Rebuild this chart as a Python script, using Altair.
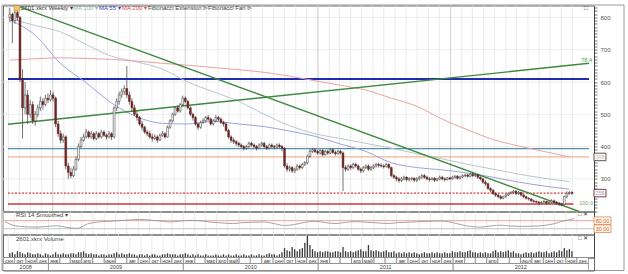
import altair as alt
import pandas as pd

FONT = "Liberation Sans"
W = 591
H_MAIN, H_RSI, H_VOL, H_AX = 206, 23, 23, 13

# ---- weekly bars, Friday closes from 2008-09-05 ----
bar_open = [800, 810, 790, 815, 800, 610, 520, 560, 500, 530,
            480, 500, 520, 540, 530, 550, 545, 560, 550, 470,
            440, 420, 430, 340, 320, 310, 330, 360, 400, 420,
            430, 445, 430, 440, 425, 440, 430, 445, 435, 430,
            440, 430, 520, 540, 560, 570, 580, 560, 540, 520,
            500, 490, 470, 460, 445, 440, 430, 425, 430, 420,
            435, 440, 430, 460, 480, 500, 520, 510, 530, 550,
            540, 520, 500, 490, 470, 460, 475, 480, 490, 485,
            470, 480, 490, 485, 475, 470, 450, 430, 420, 415,
            410, 405, 400, 395, 400, 410, 405, 400, 395, 405,
            410, 400, 395, 405, 400, 398, 405, 400, 395, 340,
            330, 335, 325, 330, 340, 335, 345, 350, 370, 385,
            390, 385, 380, 388, 375, 385, 380, 390, 382, 378,
            385, 380, 335, 330, 340, 335, 345, 340, 330, 325,
            335, 340, 330, 335, 340, 345, 342, 340, 338, 345,
            335, 310, 305, 300, 295, 300, 305, 298, 300, 302,
            296, 300, 305, 310, 305, 300, 298, 302, 296, 300,
            305, 300, 298, 303, 300, 305, 308, 302, 306, 310,
            312, 308, 315, 310, 312, 305, 300, 290, 285, 270,
            265, 255, 250, 245, 240, 245, 250, 255, 258, 262,
            255, 258, 250, 245, 240, 238, 232, 230, 228, 225,
            228, 230, 225, 228, 232, 228, 225, 222, 220, 245,
            255, 258]
bar_high = [830, 815, 835, 830, 805, 640, 600, 575, 545, 540,
            510, 530, 555, 550, 560, 565, 575, 570, 555, 480,
            450, 440, 435, 350, 335, 340, 370, 410, 430, 440,
            455, 450, 448, 445, 448, 445, 452, 450, 440, 448,
            445, 525, 550, 570, 580, 590, 650, 570, 550, 530,
            510, 495, 480, 465, 452, 448, 440, 438, 435, 440,
            448, 445, 465, 485, 505, 525, 528, 535, 558, 555,
            545, 525, 505, 495, 475, 480, 488, 495, 498, 490,
            485, 498, 495, 490, 480, 475, 455, 435, 428, 420,
            415, 410, 405, 405, 415, 415, 410, 405, 410, 415,
            415, 405, 410, 410, 405, 410, 410, 405, 398, 348,
            342, 340, 335, 345, 345, 350, 355, 375, 392, 395,
            395, 390, 392, 392, 390, 390, 395, 395, 388, 390,
            390, 385, 342, 345, 345, 350, 350, 345, 335, 340,
            345, 345, 340, 345, 350, 350, 348, 345, 350, 348,
            338, 315, 310, 305, 305, 310, 308, 305, 306, 305,
            305, 310, 315, 315, 310, 305, 305, 305, 303, 310,
            310, 305, 306, 306, 310, 312, 312, 310, 314, 316,
            316, 318, 320, 315, 316, 308, 303, 295, 288, 274,
            268, 258, 254, 250, 248, 253, 258, 262, 266, 265,
            262, 260, 253, 248, 243, 240, 236, 233, 231, 232,
            234, 232, 231, 237, 236, 231, 228, 226, 248, 262,
            262, 262]
bar_low = [785, 720, 780, 790, 600, 425, 500, 470, 490, 470,
           465, 490, 510, 515, 525, 535, 540, 540, 460, 430,
           410, 412, 330, 300, 302, 305, 325, 355, 395, 415,
           425, 425, 425, 418, 420, 425, 425, 430, 422, 425,
           420, 425, 510, 530, 550, 560, 550, 530, 510, 495,
           480, 465, 450, 440, 432, 425, 415, 420, 412, 418,
           430, 425, 428, 455, 475, 495, 505, 505, 525, 535,
           515, 495, 480, 465, 452, 455, 470, 475, 480, 465,
           465, 475, 478, 470, 462, 445, 425, 412, 408, 402,
           398, 395, 388, 390, 395, 400, 395, 388, 392, 400,
           395, 390, 392, 395, 392, 395, 395, 385, 335, 322,
           322, 318, 318, 325, 328, 330, 340, 345, 365, 380,
           380, 375, 376, 370, 372, 375, 376, 378, 372, 375,
           375, 262, 322, 325, 328, 330, 335, 325, 318, 320,
           330, 325, 325, 330, 335, 335, 335, 332, 335, 330,
           305, 300, 292, 288, 290, 295, 292, 292, 295, 290,
           290, 295, 300, 300, 295, 292, 295, 290, 292, 296,
           295, 292, 295, 296, 297, 300, 298, 298, 302, 305,
           304, 305, 306, 305, 300, 295, 285, 278, 266, 258,
           250, 244, 240, 236, 237, 242, 247, 252, 255, 250,
           250, 246, 240, 236, 233, 228, 226, 224, 218, 222,
           224, 220, 222, 225, 224, 220, 216, 215, 218, 240,
           250, 250]
bar_close = [810, 790, 815, 800, 610, 520, 560, 500, 530, 480,
             500, 520, 540, 530, 550, 545, 560, 550, 470, 440,
             420, 430, 340, 320, 310, 330, 360, 400, 420, 430,
             445, 430, 440, 425, 440, 430, 445, 435, 430, 440,
             430, 520, 540, 560, 570, 580, 560, 540, 520, 500,
             490, 470, 460, 445, 440, 430, 425, 430, 420, 435,
             440, 430, 460, 480, 500, 520, 510, 530, 550, 540,
             520, 500, 490, 470, 460, 475, 480, 490, 485, 470,
             480, 490, 485, 475, 470, 450, 430, 420, 415, 410,
             405, 400, 395, 400, 410, 405, 400, 395, 405, 410,
             400, 395, 405, 400, 398, 405, 400, 395, 340, 330,
             335, 325, 330, 340, 335, 345, 350, 370, 385, 390,
             385, 380, 388, 375, 385, 380, 390, 382, 378, 385,
             380, 335, 330, 340, 335, 345, 340, 330, 325, 335,
             340, 330, 335, 340, 345, 342, 340, 338, 345, 335,
             310, 305, 300, 295, 300, 305, 298, 300, 302, 296,
             300, 305, 310, 305, 300, 298, 302, 296, 300, 305,
             300, 298, 303, 300, 305, 308, 302, 306, 310, 312,
             308, 315, 310, 312, 305, 300, 290, 285, 270, 265,
             255, 250, 245, 240, 245, 250, 255, 258, 262, 255,
             258, 250, 245, 240, 238, 232, 230, 228, 225, 228,
             230, 225, 228, 232, 228, 225, 222, 220, 245, 255,
             258, 256]
volume = [4, 5, 3, 6, 5, 4, 3, 5, 4, 3,
          3, 4, 3, 2, 4, 3, 2, 3, 5, 3,
          3, 4, 3, 3, 4, 4, 3, 5, 5, 6,
          4, 3, 4, 3, 3, 2, 3, 3, 2, 3,
          3, 4, 5, 3, 4, 3, 3, 4, 3, 3,
          2, 3, 3, 2, 3, 2, 3, 3, 2, 2,
          3, 3, 4, 3, 3, 3, 2, 3, 3, 4,
          3, 2, 3, 2, 3, 2, 2, 3, 2, 2,
          2, 3, 2, 2, 3, 2, 3, 2, 2, 3,
          2, 2, 3, 2, 2, 3, 2, 2, 3, 2,
          2, 3, 4, 3, 3, 2, 3, 5, 9, 7,
          6, 10, 8, 6, 8, 9, 14, 21, 12, 8,
          6, 5, 6, 5, 6, 6, 5, 5, 6, 6,
          5, 10, 6, 5, 6, 5, 6, 7, 8, 6,
          6, 12, 7, 6, 7, 6, 5, 6, 7, 5,
          5, 6, 4, 5, 4, 5, 4, 5, 4, 5,
          4, 3, 4, 5, 4, 4, 5, 4, 5, 4,
          4, 5, 4, 4, 6, 5, 5, 6, 5, 5,
          6, 7, 5, 5, 4, 5, 4, 5, 4, 4,
          6, 7, 5, 6, 5, 6, 7, 5, 6, 4,
          4, 3, 4, 5, 4, 5, 4, 5, 6, 5,
          5, 6, 4, 5, 6, 5, 7, 6, 9, 7,
          8, 6]

# moving averages, one value every 10 weeks
ma_step = 10
ma55 = [792, 745, 657, 598, 535, 492, 472, 470, 478, 470, 462, 448,
        432, 408, 385, 350, 335, 328, 318, 305, 290, 278, 268]
ma100 = [797, 775, 755, 716, 680, 662, 640, 600, 570, 540, 500, 465,
         440, 425, 410, 395, 378, 362, 345, 330, 315, 302, 292]
ma200 = [668, 672, 675, 673, 670, 665, 658, 652, 645, 638, 630, 618,
         604, 590, 575, 550, 525, 485, 452, 422, 402, 385, 368]

# RSI(14) smoothed, one value every 4 weeks
rsi_step = 4
rsi = [74, 48, 42, 40, 44, 48, 38, 32, 60, 72,
       76, 80, 84, 88, 84, 78, 72, 78, 82, 78,
       70, 66, 62, 68, 70, 72, 62, 50, 56, 70,
       76, 68, 62, 70, 74, 70, 66, 62, 68, 70,
       74, 76, 78, 72, 56, 44, 40, 48, 52, 46,
       44, 46, 50, 60, 78, 92]
rsi_levels = [80, 30]

# Fibonacci extension levels
fib_blue = 609
fib_teal = 394
fib_orange = 368
fib_last = 256
fib_base = 222

# Fibonacci fan rays: (date, price) endpoints
fan_down = [("2008-09-19", 838), ("2012-12-20", 199)]
fan_up = [("2008-08-31", 469), ("2013-01-16", 658)]

month_labels = ["сен", "окт", "ноя", "дек",
                "янв", "", "мар", "апр", "", "июн", "", "авг", "сен", "окт", "ноя", "дек",
                "янв", "", "мар", "апр", "май", "", "", "авг", "сен", "окт", "ноя", "дек",
                "янв", "", "", "апр", "май", "", "", "авг", "сен", "окт", "ноя", "дек",
                "янв", "", "", "апр", "", "", "июл", "авг", "сен", "окт", "ноя", "дек"]
years = [2008, 2009, 2010, 2011, 2012]

X_LO = pd.Timestamp("2008-08-31")
X_HI = pd.Timestamp("2013-01-16")

# ---------------------------------------------------------------- frames
weeks = pd.date_range("2008-09-05", periods=len(bar_close), freq="7D")
bars = pd.DataFrame({"date": weeks, "o": bar_open, "h": bar_high, "l": bar_low,
                     "c": bar_close, "vol": volume})
bars["dir"] = ["up" if c >= o else "down" for o, c in zip(bar_open, bar_close)]

ma_dates = weeks[::ma_step]
ma_df = pd.concat([
    pd.DataFrame({"date": ma_dates, "v": ma100, "s": "MA 100"}),
    pd.DataFrame({"date": ma_dates, "v": ma55, "s": "MA 55"}),
    pd.DataFrame({"date": ma_dates, "v": ma200, "s": "MA 200"}),
])
rsi_df = pd.DataFrame({"date": weeks[::rsi_step], "v": rsi})

m_start = pd.date_range("2008-09-01", periods=len(month_labels) + 1, freq="MS")
months = pd.DataFrame({
    "s": [max(d, X_LO) for d in m_start[:-1]],
    "e": [min(d, X_HI) for d in m_start[1:]],
    "lab": month_labels,
})
months["mid"] = months["s"] + (months["e"] - months["s"]) / 2
yr = pd.DataFrame({
    "s": [max(pd.Timestamp(f"{y}-01-01"), X_LO) for y in years],
    "e": [min(pd.Timestamp(f"{y + 1}-01-01"), X_HI) for y in years],
    "lab": [str(y) for y in years],
})
yr["mid"] = yr["s"] + (yr["e"] - yr["s"]) / 2
year_lines = pd.DataFrame({"s": [pd.Timestamp(f"{y}-01-01") for y in years[1:]]})

xsc = alt.Scale(domain=[alt.DateTime(year=2008, month=8, date=31),
                        alt.DateTime(year=2013, month=1, date=16)])


def X(f):
    return alt.X(f"{f}:T", scale=xsc, axis=None, title=None)


yax = alt.Axis(orient="right", values=list(range(200, 840, 10)),
               labelExpr="datum.value % 100 == 0 && datum.value >= 300 ? datum.label : ''",
               tickSize=3, tickColor="#777", domainColor="#444", labelColor="#555",
               labelFontSize=6, labelFont=FONT, labelPadding=3, grid=False,
               labelOverlap=False, format="d", title=None)
ysc = alt.Scale(domain=[199, 837], nice=False, zero=False)


def Y(f):
    return alt.Y(f"{f}:Q", scale=ysc, axis=yax, title=None)


def one(**kw):
    return pd.DataFrame({k: [v] for k, v in kw.items()})


def text(t, x, y, color, size=6, align="left"):
    return alt.Chart(one(t=t)).mark_text(
        align=align, baseline="middle", fontSize=size, color=color, font=FONT).encode(
        x=alt.value(x), y=alt.value(y), text="t:N")


def box_path(w, h):
    r = h / w
    return f"M-1,-{r:.3f}L1,-{r:.3f}L1,{r:.3f}L-1,{r:.3f}Z"


# ---------------------------------------------------------------- main panel
grid_h = alt.Chart(pd.DataFrame({"lvl": list(range(300, 801, 100))})).mark_rule(
    color="#e9e9e9", strokeWidth=0.8).encode(y=Y("lvl"))
grid_v = alt.Chart(months).mark_rule(color="#e6e6e6", strokeWidth=0.8).encode(x=X("s"))
grid_y = alt.Chart(year_lines).mark_rule(color="#cdcdcd", strokeWidth=0.8).encode(x=X("s"))


def hline(level, color, width, end=X_HI, dash=None):
    kw = dict(color=color, strokeWidth=width)
    if dash:
        kw["strokeDash"] = dash
    return alt.Chart(one(a=X_LO, b=end, v=level)).mark_rule(**kw).encode(
        x=X("a"), x2="b:T", y=Y("v"))


cut = pd.Timestamp("2012-12-04")
levels = [
    hline(fib_blue, "#1f2db4", 2),
    hline(fib_teal, "#4f93ad", 1.2),
    hline(fib_orange, "#eba27a", 1),
    hline(fib_last, "#e03a3a", 1.2, end=cut, dash=[2, 1.5]),
    hline(fib_base, "#c83a3a", 1.4, end=cut),
]

ma_lines = alt.Chart(ma_df).mark_line(strokeWidth=1, interpolate="monotone").encode(
    x=X("date"), y=Y("v"),
    color=alt.Color("s:N", legend=None,
                    scale=alt.Scale(domain=["MA 100", "MA 55", "MA 200"],
                                    range=["#b9c6cc", "#9ea3dc", "#eaa3a3"])),
    detail="s:N")


def ray(pts):
    df = pd.DataFrame({"date": [pd.Timestamp(d) for d, _ in pts], "v": [p for _, p in pts]})
    return alt.Chart(df).mark_line(color="#3d8a3d", strokeWidth=1.4, clip=True).encode(
        x=X("date"), y=Y("v"))


wicks = alt.Chart(bars).mark_rule(color="#3a3a3a", strokeWidth=0.7).encode(
    x=X("date"), y=Y("l"), y2="h:Q")
bodies = alt.Chart(bars).mark_bar(size=1.8, strokeWidth=0.5).encode(
    x=X("date"), y=Y("o"), y2="c:Q",
    fill=alt.Fill("dir:N", legend=None,
                  scale=alt.Scale(domain=["up", "down"], range=["#ffffff", "#742626"])),
    stroke=alt.Stroke("dir:N", legend=None,
                      scale=alt.Scale(domain=["up", "down"], range=["#333333", "#5a1a1a"])))

axis_lab = pd.DataFrame({"v": [fib_orange, fib_last], "t": ["368", "256"], "k": ["o", "d"]})
axis_boxes = alt.Chart(axis_lab).mark_point(
    shape=box_path(12, 7.5), size=144, filled=True, fill="#fff8f0", strokeWidth=0.8,
    opacity=1).encode(
    x=alt.value(W + 6), y=Y("v"),
    stroke=alt.Stroke("k:N", legend=None,
                      scale=alt.Scale(domain=["o", "d"], range=["#e0874f", "#333333"])))
axis_box_txt = alt.Chart(axis_lab).mark_text(fontSize=5.5, font=FONT, baseline="middle").encode(
    x=alt.value(W + 6), y=Y("v"), text="t:N",
    color=alt.Color("k:N", legend=None,
                    scale=alt.Scale(domain=["o", "d"], range=["#d0642a", "#222222"])))

header = [
    alt.Chart(one(a=0)).mark_rect(fill="#f2c46a", stroke="#b58a30", strokeWidth=0.6).encode(
        x=alt.value(11), x2=alt.value(17), y=alt.value(0), y2=alt.value(5.5)),
    text("2601.xkrx Weekly ▾", 18, 2.8, "#333333"),
    text("MA 100 ▾", 70, 2.8, "#9aaeb4"),
    text("MA 55 ▾", 96, 2.8, "#3344bb"),
    text("MA 200 ▾", 119, 2.8, "#dd4b4b"),
    text("Fibonacci Extension ⊳", 145, 2.8, "#444444"),
    text("Fibonacci Fan ⊳", 205, 2.8, "#444444"),
    text("□", 581, 2.8, "#333333", size=6),
    text("78.4", 589, 54, "#4f9a4f", size=5.5, align="right"),
    text("100.0", 590, 197, "#6aaa6a", size=5.5, align="right"),
]

frame = alt.Chart(one(a=0)).mark_rect(fill="transparent", stroke="#9a9a9a",
                                      strokeWidth=1).encode(
    x=alt.value(-1), x2=alt.value(621), y=alt.value(-0.5), y2=alt.value(265))

main = alt.layer(grid_h, grid_v, grid_y, *levels, ma_lines, ray(fan_down), ray(fan_up),
                 wicks, bodies, axis_boxes, axis_box_txt, *header, frame).properties(
    width=W, height=H_MAIN)

# ---------------------------------------------------------------- RSI panel
rsc = alt.Scale(domain=[-6, 137], nice=False, zero=False)
rax = alt.Axis(orient="right", values=[], ticks=False, labels=False, grid=False,
               domainColor="#444", title=None)
rsi_line = alt.Chart(rsi_df).mark_line(color="#9a9a9a", strokeWidth=0.9,
                                       interpolate="monotone").encode(
    x=X("date"), y=alt.Y("v:Q", scale=rsc, axis=rax, title=None))
rsi_lv = alt.Chart(pd.DataFrame({"v": rsi_levels, "k": ["hi", "lo"]})).mark_rule(
    strokeWidth=1).encode(
    y=alt.Y("v:Q", scale=rsc, axis=rax, title=None),
    color=alt.Color("k:N", legend=None,
                    scale=alt.Scale(domain=["hi", "lo"], range=["#8a8a8a", "#4f9a4f"])))
rsi_lab = pd.DataFrame({"v": rsi_levels, "t": ["80.00", "30.00"]})
rsi_box = alt.Chart(rsi_lab).mark_point(
    shape=box_path(17, 7.5), size=289, filled=True, fill="#fff8f0", stroke="#e0874f",
    strokeWidth=0.8, opacity=1).encode(
    x=alt.value(W + 8.5), y=alt.Y("v:Q", scale=rsc, axis=rax, title=None))
rsi_box_t = alt.Chart(rsi_lab).mark_text(
    fontSize=5.5, font=FONT, color="#d0642a", baseline="middle").encode(
    x=alt.value(W + 8.5), y=alt.Y("v:Q", scale=rsc, axis=rax, title=None), text="t:N")
rsi_grid = alt.Chart(months).mark_rule(color="#e6e6e6", strokeWidth=0.8).encode(x=X("s"))
rsi_panel = alt.layer(
    rsi_grid, rsi_lv, rsi_line, rsi_box, rsi_box_t,
    text("RSI 14 Smoothed ▾", 13, 3.5, "#444444"),
    text("□ ✕", 575, 2.5, "#333333", size=6),
).properties(width=W, height=H_RSI)

# ---------------------------------------------------------------- volume panel
vsc = alt.Scale(domain=[0, 22], nice=False)
vax = alt.Axis(orient="right", values=[], ticks=False, labels=False, grid=False,
               domainColor="#444", title=None)
vol_grid = alt.Chart(months).mark_rule(color="#e6e6e6", strokeWidth=0.8).encode(x=X("s"))
vol_bars = alt.Chart(bars).mark_bar(size=1.3, color="#3a3a3a").encode(
    x=X("date"), y=alt.Y("vol:Q", scale=vsc, axis=vax, title=None))
vol_panel = alt.layer(
    vol_grid, vol_bars,
    text("2601.xkrx Volume", 13, 4, "#444444"),
    text("□ ✕", 575, 3, "#333333", size=6),
).properties(width=W, height=H_VOL)

# ---------------------------------------------------------------- time axis
m_cells = alt.Chart(months).mark_rect(fill="white", stroke="#7a7a7a", strokeWidth=0.7).encode(
    x=X("s"), x2="e:T", y=alt.value(0), y2=alt.value(6))
m_text = alt.Chart(months).mark_text(fontSize=5, font=FONT, color="#444",
                                     baseline="middle").encode(
    x=X("mid"), y=alt.value(3), text="lab:N")
y_cells = alt.Chart(yr).mark_rect(fill="white", stroke="#7a7a7a", strokeWidth=0.7).encode(
    x=X("s"), x2="e:T", y=alt.value(6), y2=alt.value(H_AX))
y_text = alt.Chart(yr).mark_text(fontSize=5.5, font=FONT, color="#444",
                                 baseline="middle").encode(
    x=X("mid"), y=alt.value(9.5), text="lab:N")
time_axis = alt.layer(m_cells, m_text, y_cells, y_text).properties(width=W, height=H_AX)

chart = alt.vconcat(main, rsi_panel, vol_panel, time_axis, spacing=0, bounds="flush").properties(
    padding={"left": 1, "top": 3.5, "right": 0, "bottom": 0},
    background="white",
).configure_view(stroke="#6a6a6a", strokeWidth=1)

chart.save("out.html", embed_options={"renderer": "svg", "actions": False})
